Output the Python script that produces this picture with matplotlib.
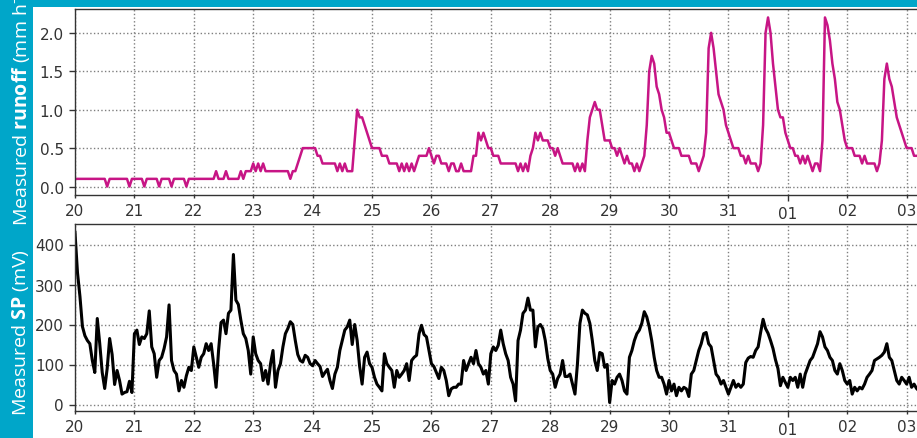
"""
Measured runoff and self-potential (SP), 20 Oct - 03 Nov.
Two stacked hourly time-series panels on a shared daily axis.
"""
import matplotlib
matplotlib.use("Agg")
import matplotlib.pyplot as plt
import matplotlib.dates as mdates
from matplotlib.patches import Rectangle
from matplotlib.ticker import FormatStrFormatter
import pandas as pd

START = "2019-10-20 00:00"

# hourly runoff (mm h-1), one row per day
runoff_mm_h = [
    0.1, 0.1, 0.1, 0.1, 0.1, 0.1, 0.1, 0.1, 0.1, 0.1, 0.1, 0.1, 0.1, 0.0, 0.1, 0.1, 0.1, 0.1, 0.1, 0.1, 0.1, 0.1, 0.0, 0.1,
    0.1, 0.1, 0.1, 0.1, 0.0, 0.1, 0.1, 0.1, 0.1, 0.1, 0.0, 0.1, 0.1, 0.1, 0.1, 0.0, 0.1, 0.1, 0.1, 0.1, 0.1, 0.0, 0.1, 0.1,
    0.1, 0.1, 0.1, 0.1, 0.1, 0.1, 0.1, 0.1, 0.1, 0.2, 0.1, 0.1, 0.1, 0.2, 0.1, 0.1, 0.1, 0.1, 0.1, 0.2, 0.1, 0.2, 0.2, 0.2,
    0.3, 0.2, 0.3, 0.2, 0.3, 0.2, 0.2, 0.2, 0.2, 0.2, 0.2, 0.2, 0.2, 0.2, 0.2, 0.1, 0.2, 0.2, 0.3, 0.4, 0.5, 0.5, 0.5, 0.5,
    0.5, 0.5, 0.4, 0.4, 0.3, 0.3, 0.3, 0.3, 0.3, 0.3, 0.2, 0.3, 0.2, 0.3, 0.2, 0.2, 0.2, 0.6, 1.0, 0.9, 0.9, 0.8, 0.7, 0.6,
    0.5, 0.5, 0.5, 0.5, 0.4, 0.4, 0.4, 0.3, 0.3, 0.3, 0.3, 0.2, 0.3, 0.2, 0.3, 0.2, 0.3, 0.2, 0.3, 0.4, 0.4, 0.4, 0.4, 0.5,
    0.4, 0.3, 0.4, 0.4, 0.3, 0.3, 0.3, 0.2, 0.3, 0.3, 0.2, 0.2, 0.3, 0.2, 0.2, 0.2, 0.2, 0.4, 0.4, 0.7, 0.6, 0.7, 0.6, 0.5,
    0.5, 0.4, 0.4, 0.4, 0.3, 0.3, 0.3, 0.3, 0.3, 0.3, 0.3, 0.2, 0.3, 0.2, 0.3, 0.2, 0.4, 0.5, 0.7, 0.6, 0.7, 0.6, 0.6, 0.6,
    0.5, 0.5, 0.4, 0.5, 0.4, 0.3, 0.3, 0.3, 0.3, 0.3, 0.2, 0.3, 0.2, 0.3, 0.2, 0.6, 0.9, 1.0, 1.1, 1.0, 1.0, 0.8, 0.6, 0.6,
    0.6, 0.5, 0.5, 0.4, 0.5, 0.4, 0.3, 0.4, 0.3, 0.3, 0.2, 0.3, 0.2, 0.3, 0.4, 0.8, 1.5, 1.7, 1.6, 1.3, 1.2, 1.0, 0.9, 0.7,
    0.7, 0.6, 0.5, 0.5, 0.5, 0.4, 0.4, 0.4, 0.4, 0.3, 0.3, 0.3, 0.2, 0.3, 0.4, 0.7, 1.8, 2.0, 1.8, 1.5, 1.2, 1.1, 1.0, 0.8,
    0.7, 0.6, 0.5, 0.5, 0.5, 0.4, 0.4, 0.3, 0.4, 0.3, 0.3, 0.3, 0.2, 0.3, 0.8, 2.0, 2.2, 2.0, 1.6, 1.3, 1.0, 0.9, 0.9, 0.7,
    0.6, 0.5, 0.5, 0.4, 0.4, 0.3, 0.4, 0.3, 0.4, 0.3, 0.2, 0.3, 0.3, 0.2, 0.6, 2.2, 2.1, 1.9, 1.6, 1.4, 1.1, 1.0, 0.8, 0.6,
    0.5, 0.5, 0.5, 0.4, 0.4, 0.4, 0.3, 0.4, 0.3, 0.3, 0.3, 0.3, 0.2, 0.3, 0.6, 1.4, 1.6, 1.4, 1.3, 1.1, 0.9, 0.8, 0.7, 0.6,
    0.5, 0.5, 0.5, 0.4, 0.4, 0.4, 0.4,
]

# hourly self-potential (mV), one row per day
sp_mv = [
    430, 330, 270, 195, 172, 160, 152, 110, 80, 215, 152, 80, 40, 90, 165, 125, 50, 85, 60, 26, 30, 32, 58, 30,
    177, 186, 150, 169, 165, 177, 234, 144, 127, 68, 110, 118, 140, 169, 249, 110, 85, 76, 34, 60, 43, 72, 93, 85,
    144, 118, 93, 118, 127, 152, 135, 152, 102, 43, 135, 205, 211, 177, 228, 236, 375, 261, 250, 211, 177, 165, 135, 76,
    169, 127, 110, 102, 60, 85, 51, 102, 135, 43, 85, 102, 144, 177, 190, 207, 200, 160, 125, 110, 106, 123, 118, 102,
    97, 110, 102, 95, 70, 80, 88, 60, 40, 76, 93, 135, 160, 186, 194, 211, 150, 200, 160, 95, 51, 118, 131, 102,
    93, 68, 51, 43, 34, 127, 102, 93, 85, 43, 85, 68, 76, 85, 102, 60, 110, 118, 123, 177, 198, 175, 169, 135,
    102, 95, 80, 65, 93, 85, 60, 22, 39, 43, 43, 51, 51, 110, 85, 102, 118, 102, 135, 102, 93, 76, 85, 51,
    127, 144, 135, 148, 186, 152, 127, 110, 68, 51, 9, 160, 186, 228, 236, 266, 236, 236, 144, 194, 200, 190, 160, 115,
    85, 76, 43, 65, 76, 110, 70, 70, 76, 51, 26, 102, 203, 236, 228, 224, 203, 160, 110, 85, 130, 127, 93, 100,
    5, 60, 51, 68, 76, 60, 34, 26, 118, 135, 160, 177, 186, 203, 232, 219, 194, 160, 118, 85, 68, 68, 51, 26,
    60, 34, 51, 22, 43, 34, 43, 39, 20, 76, 85, 110, 135, 152, 177, 180, 152, 144, 110, 76, 68, 51, 60, 43,
    26, 43, 60, 43, 51, 43, 51, 105, 116, 120, 118, 135, 144, 180, 213, 190, 178, 160, 140, 112, 90, 47, 68, 55,
    43, 68, 60, 68, 43, 76, 43, 76, 93, 110, 118, 135, 152, 182, 169, 144, 135, 118, 110, 85, 76, 102, 85, 60,
    51, 60, 26, 43, 34, 43, 39, 51, 68, 76, 85, 110, 114, 118, 123, 131, 152, 118, 110, 85, 60, 51, 68, 60,
    51, 68, 43, 51, 40, 34, 35,
]

runoff_ticks = [0.0, 0.5, 1.0, 1.5, 2.0]
sp_ticks = [0, 100, 200, 300, 400]

TEAL = "#00A6C9"
MAGENTA = "#C71585"
INK = "#333333"
W, H = 917, 439

times = pd.date_range(START, periods=len(runoff_mm_h), freq="h")

plt.rcParams["mathtext.fontset"] = "custom"
plt.rcParams["mathtext.rm"] = "Open Sans"
plt.rcParams["mathtext.bf"] = "Open Sans:bold"
plt.rcParams["mathtext.it"] = "Open Sans:italic"

fig = plt.figure(figsize=(W / 100, H / 100), dpi=100, facecolor=TEAL)
fig.add_artist(Rectangle((33 / W, 0), 1, (H - 8) / H, transform=fig.transFigure,
                         facecolor="white", edgecolor="none", zorder=-10))

# axes run a little past the right edge of the canvas
left, width = 75 / W, (921.5 - 75) / W
ax1 = fig.add_axes([left, (H - 196) / H, width, 186 / H])
ax2 = fig.add_axes([left, (H - 412) / H, width, 187 / H])


def style_axis(ax, yticks):
    ax.set_xlim(times[0], times[-1])
    ax.xaxis.set_major_locator(mdates.MonthLocator())
    ax.xaxis.set_major_formatter(mdates.DateFormatter("%d"))
    ax.xaxis.set_minor_locator(mdates.DayLocator())
    ax.xaxis.set_minor_formatter(mdates.DateFormatter("%d"))
    ax.set_yticks(yticks)
    ax.grid(which="both", axis="x", color="#7f7f7f", linestyle=":", linewidth=1.0)
    ax.grid(which="major", axis="y", color="#7f7f7f", linestyle=":", linewidth=1.0)
    ax.tick_params(which="major", length=4.5, width=1.0, pad=3.5, labelsize=11, colors=INK)
    ax.tick_params(which="minor", length=2.3, width=1.0, pad=3.5, labelsize=11, colors=INK)
    for sp in ax.spines.values():
        sp.set_color(INK)
        sp.set_linewidth(1.0)


ax1.plot(times, runoff_mm_h, color=MAGENTA, linewidth=1.8)
style_axis(ax1, runoff_ticks)
ax1.yaxis.set_major_formatter(FormatStrFormatter("%.1f"))

ax2.plot(times, sp_mv, color="black", linewidth=2.2)
style_axis(ax2, sp_ticks)

fig.text(21 / W, 1 - 226 / H, r"Measured $\mathbf{runoff}$ (mm h$^{-1}$)",
         rotation=90, ha="center", va="bottom", color="white",
         fontsize=14, family="Open Sans")
fig.text(21 / W, 1 - 332.5 / H, r"Measured $\mathbf{SP}$ (mV)",
         rotation=90, ha="center", va="center", color="white",
         fontsize=14, family="Open Sans")

fig.savefig("out.png", dpi=100, facecolor=TEAL)
